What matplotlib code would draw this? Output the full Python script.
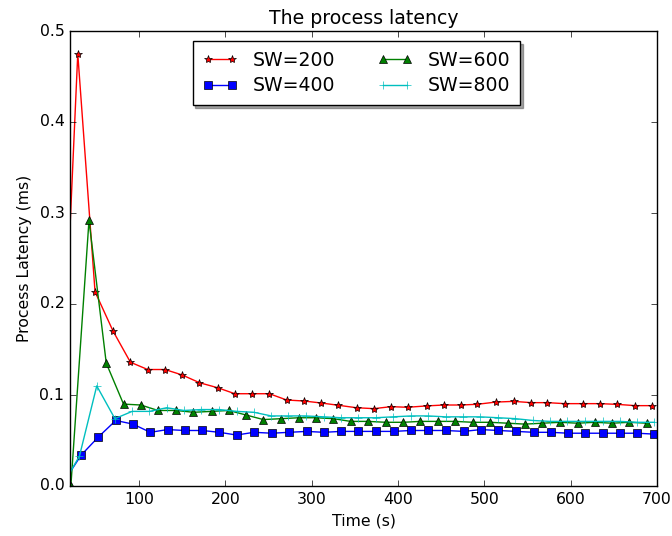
import matplotlib
matplotlib.use("Agg")
import matplotlib.pyplot as plt

plt.style.use("classic")

# Sample times (s) and process latency (ms) for each sliding-window size
time_sw200 = [9, 29, 49, 70, 90, 110, 130, 150, 170, 191, 211, 231, 251, 271, 291,
              311, 331, 352, 372, 392, 411, 433, 453, 473, 492, 513, 534, 554, 573,
              593, 614, 634, 654, 675, 694]
lat_sw200 = [0.05, 0.475, 0.2135, 0.170, 0.136, 0.128, 0.128, 0.122, 0.1135, 0.108,
             0.1014, 0.1014, 0.1014, 0.0945, 0.0934, 0.0912, 0.0887, 0.086, 0.085,
             0.0872, 0.0865, 0.088, 0.089, 0.089, 0.0898, 0.0922, 0.093, 0.0916,
             0.0916, 0.0905, 0.0905, 0.0905, 0.0897, 0.0883, 0.0883]

time_sw400 = [13, 33, 53, 73, 93, 113, 133, 153, 173, 193, 213, 233, 254, 274, 294,
              314, 334, 354, 374, 395, 415, 435, 455, 476, 496, 516, 537, 557, 577,
              597, 617, 637, 657, 677, 697]
lat_sw400 = [0.005, 0.034, 0.054, 0.072, 0.068, 0.059, 0.062, 0.061, 0.061, 0.059,
             0.056, 0.059, 0.058, 0.059, 0.060, 0.059, 0.060, 0.060, 0.060, 0.060,
             0.061, 0.061, 0.061, 0.060, 0.062, 0.061, 0.060, 0.059, 0.059, 0.058,
             0.058, 0.058, 0.058, 0.058, 0.057]

time_sw600 = [21, 42, 62, 82, 102, 122, 143, 163, 184, 204, 224, 244, 265, 285, 305,
              325, 345, 365, 386, 406, 426, 446, 466, 487, 507, 527, 547, 567, 588,
              608, 628, 648, 668, 688]
lat_sw600 = [0.0, 0.292, 0.135, 0.090, 0.089, 0.083, 0.083, 0.081, 0.082, 0.083,
             0.078, 0.073, 0.074, 0.075, 0.075, 0.074, 0.071, 0.071, 0.070, 0.070,
             0.071, 0.071, 0.071, 0.070, 0.070, 0.069, 0.068, 0.069, 0.070, 0.069,
             0.070, 0.069, 0.070, 0.069]

time_sw800 = [11, 31, 51, 72, 92, 112, 132, 152, 172, 193, 213, 233, 253, 273, 293,
              314, 334, 354, 374, 394, 415, 435, 455, 475, 495, 516, 536, 556, 576,
              596, 617, 637, 657, 677, 697]
lat_sw800 = [0.0, 0.033, 0.110, 0.074, 0.082, 0.082, 0.086, 0.083, 0.084, 0.084,
             0.082, 0.081, 0.077, 0.077, 0.077, 0.076, 0.075, 0.075, 0.075, 0.076,
             0.077, 0.077, 0.076, 0.076, 0.076, 0.075, 0.074, 0.072, 0.071, 0.071,
             0.071, 0.071, 0.071, 0.070, 0.070]

fig = plt.figure(figsize=(6.72, 5.36), dpi=100, facecolor="white")
ax = fig.add_axes([70 / 672, 50 / 536, 587 / 672, 455 / 536])

ax.plot(time_sw200, lat_sw200, "r-*", label="SW=200")
ax.plot(time_sw400, lat_sw400, "b-s", label="SW=400")
ax.plot(time_sw600, lat_sw600, "g-^", label="SW=600")
ax.plot(time_sw800, lat_sw800, "c-+", label="SW=800")

ax.set_xlim(20, 700)
ax.set_ylim(0, 0.5)
ax.set_xticks([100, 200, 300, 400, 500, 600, 700])
ax.set_yticks([0.0, 0.1, 0.2, 0.3, 0.4, 0.5])
ax.tick_params(labelsize=11.3)

ax.set_title("The process latency", fontsize=13.6)
ax.set_xlabel("Time (s)", fontsize=11.3)
ax.set_ylabel("Process Latency (ms)", fontsize=11.3)

ax.legend(loc="upper center", ncol=2, shadow=True, fancybox=False,
          fontsize=13.6, numpoints=2, handlelength=1.9, labelspacing=0.35,
          columnspacing=2.2, borderpad=0.5, borderaxespad=0.55,
          bbox_to_anchor=(0.488, 1.0))

fig.savefig("out.png", dpi=100, facecolor="white")
